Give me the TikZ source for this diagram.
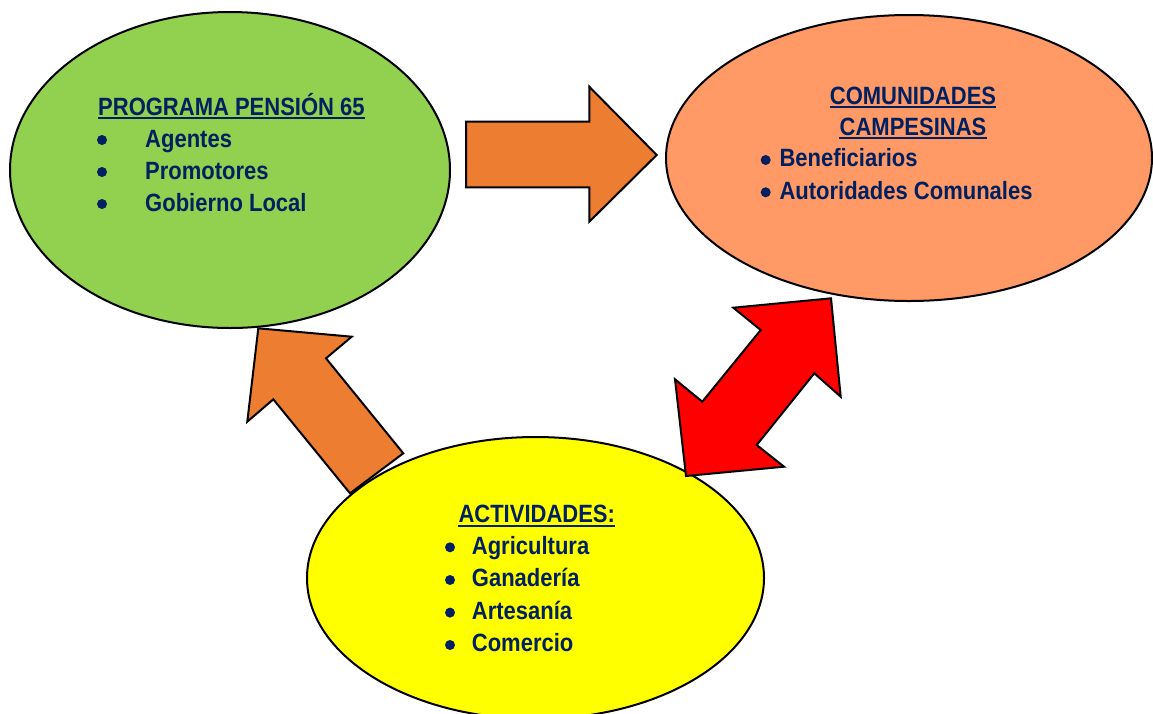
\documentclass[tikz,border=0pt]{standalone}
\usepackage{fontspec}
\newfontfamily\lab{Liberation Sans Bold}[FakeStretch=0.88]
\usetikzlibrary{shapes.geometric}
\definecolor{navy}{RGB}{0,32,96}
\definecolor{pgreen}{RGB}{146,208,80}
\definecolor{psalmon}{RGB}{255,153,102}
\definecolor{pyellow}{RGB}{255,255,0}
\definecolor{parrow}{RGB}{237,125,49}
\definecolor{pred}{RGB}{255,0,0}
\begin{document}
\begin{tikzpicture}[x=1pt,y=-1pt,
  bubble/.style={ellipse, draw=black, line width=2pt, inner sep=0pt},
  blockarrow/.style={draw=black, line width=2pt, line join=miter},
  txt/.style={anchor=base west, inner sep=0pt, text=navy, font=\lab\fontsize{25}{25}\selectfont},
  ctxt/.style={txt, anchor=base},
  dot/.style={circle, fill=navy, inner sep=0pt, minimum size=10pt},
  uline/.style={draw=navy, line width=1.8pt}]
\useasboundingbox (0,0) rectangle (1153,713);

% ellipses (green and salmon)
\node[bubble, fill=pgreen, minimum width=440pt, minimum height=316pt] (prog) at (230,170) {};
\node[bubble, fill=psalmon, minimum width=486pt, minimum height=286pt] (com) at (909,158) {};

% up-left arrow (behind yellow ellipse)
\draw[blockarrow, fill=parrow] (258.3,328.3) -- (351.7,336.7) -- (326,358.3) -- (403.3,453.3)
  -- (350,493.3) -- (273.3,399.3) -- (247.3,421.7) -- cycle;

% yellow ellipse
\node[bubble, fill=pyellow, minimum width=457pt, minimum height=282pt] (act) at (535.5,578) {};

% red double arrow
\draw[blockarrow, fill=pred] (733.3,307.7) -- (831,298.3) -- (840.7,396.7) -- (814.3,373.3)
  -- (756.7,445) -- (784,466.7) -- (686,476) -- (675,379.3) -- (702.3,401.7) -- (760.7,330) -- cycle;

% right arrow
\draw[blockarrow, fill=parrow] (466,121.7) -- (589.3,121.7) -- (589.3,86.7) -- (656.7,155)
  -- (589.3,221.7) -- (589.3,187.3) -- (466,187.3) -- cycle;

% texts: green
\node[txt] (g0) at (98,115) {PROGRAMA PENSIÓN 65};
\draw[uline] ([yshift=-3pt]g0.base west) -- ([yshift=-3pt]g0.base east);
\node[dot] (gb1) at (102,140) {};
\node[dot] (gb2) at (102,172) {};
\node[dot] (gb3) at (102,204) {};
\node[txt] (g1) at (145,147) {Agentes};
\node[txt] (g2) at (145,179) {Promotores};
\node[txt] (g3) at (145,211) {Gobierno Local};

% texts: salmon
\node[ctxt] (c0) at (913,104) {COMUNIDADES};
\draw[uline] ([yshift=-3pt]c0.base west) -- ([yshift=-3pt]c0.base east);
\node[ctxt] (c0b) at (913,135) {CAMPESINAS};
\draw[uline] ([yshift=-3pt]c0b.base west) -- ([yshift=-3pt]c0b.base east);
\node[dot] (cb1) at (765.7,160) {};
\node[dot] (cb2) at (765.7,192.3) {};
\node[txt] (c1) at (779.3,166.7) {Beneficiarios};
\node[txt] (c2) at (779.3,199) {Autoridades Comunales};

% texts: yellow
\node[txt] (a0) at (458.3,522.7) {ACTIVIDADES:};
\draw[uline] ([yshift=-3pt]a0.base west) -- ([yshift=-3pt]a0.base east);
\node[dot] (ab1) at (450,547.3) {};
\node[dot] (ab2) at (450,580) {};
\node[dot] (ab3) at (450,612.6) {};
\node[dot] (ab4) at (450,645) {};
\node[txt] (a1) at (471.7,554) {Agricultura};
\node[txt] (a2) at (471.7,586.7) {Ganadería};
\node[txt] (a3) at (471.7,619.3) {Artesanía};
\node[txt] (a4) at (471.7,651.7) {Comercio};
\end{tikzpicture}
\end{document}
